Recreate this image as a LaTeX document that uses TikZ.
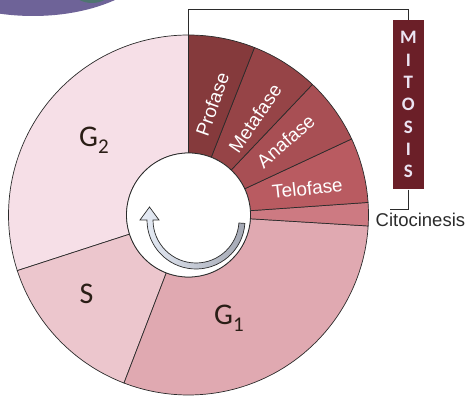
\documentclass[tikz,border=0pt]{standalone}
\usepackage{fontspec}
\setmainfont{Liberation Sans}
\newfontfamily\calfont{Carlito}
\definecolor{cG2}{HTML}{F6DFE7}
\definecolor{cS}{HTML}{ECC6CD}
\definecolor{cG1}{HTML}{E0A9B1}
\definecolor{cPro}{HTML}{853A3C}
\definecolor{cMet}{HTML}{964447}
\definecolor{cAna}{HTML}{A84F54}
\definecolor{cTel}{HTML}{B95B61}
\definecolor{cCit}{HTML}{CD7A82}
\definecolor{cMit}{HTML}{6B1F28}
\definecolor{cMitTxt}{HTML}{ECE4F2}
\definecolor{cPurp}{HTML}{6E6398}
\definecolor{cTeal}{HTML}{4E7470}
\definecolor{cLine}{HTML}{2B2B2B}
\definecolor{cGtxt}{HTML}{2A1E16}
\definecolor{cArrL}{HTML}{E8EEF8}
\definecolor{cArrR}{HTML}{A3A7B3}
\newcommand{\cycseg}[3]{\filldraw[segline, fill=#1] (#2:180pt) arc[start angle=#2, end angle=#3, radius=180pt] -- (#3:62pt) arc[start angle=#3, end angle=#2, radius=62pt] -- cycle;}
\tikzset{
  segline/.style={draw=cLine, line width=0.7pt},
  seglabel/.style={text=white, font=\fontsize{19}{19}\selectfont, inner sep=0pt},
  glabel/.style={text=cGtxt, font=\calfont\fontsize{30}{30}\selectfont, inner sep=0pt, anchor=base west},
  mitbox/.style={fill=cMit, minimum width=31.3pt, minimum height=169.3pt, inner sep=0pt, text=cMitTxt, align=center, font=\calfont\bfseries\fontsize{19}{22.33}\selectfont},
  bracket/.style={draw=cLine, line width=0.8pt},
}
\begin{document}
\begin{tikzpicture}[x=1pt,y=1pt]
\useasboundingbox (0,0) rectangle (465,398);
% top-left decoration
\begin{scope}
\clip (0,0) rectangle (465,398);
\fill[cPurp] (33,448) ellipse [x radius=125.6, y radius=66];
\begin{scope}
\clip (33,448) ellipse [x radius=125.6, y radius=66];
\fill[cTeal] (92,428) ellipse [x radius=30, y radius=33];
\end{scope}
\end{scope}
% ring
\begin{scope}[shift={(188.5,183)}]
\cycseg{cG2}{198}{90}
\cycseg{cS}{-111}{-162}
\cycseg{cG1}{-3.5}{-111}
\cycseg{cCit}{4}{-3.5}
\cycseg{cTel}{25}{4}
\cycseg{cAna}{46.5}{25}
\cycseg{cMet}{68.5}{46.5}
\cycseg{cPro}{90}{68.5}
\filldraw[fill=white, draw=cLine, line width=0.8pt] (0,0) circle[radius=62pt];
\end{scope}
% cycle arrow
\begin{scope}[shift={(196,178)}]
\path[draw=cLine, line width=0.7pt, left color=cArrL, right color=cArrR]
  (-4:49pt) arc[start angle=-4, end angle=-180, radius=49pt]
  -- (-56,0) -- (-46.5,13) -- (-37,0) -- (-43,0)
  arc[start angle=180, end angle=356, radius=43pt] -- cycle;
\end{scope}
% phase labels
\node[seglabel, rotate=70.6] (pro) at (212.3,294) {Profase};
\node[seglabel, rotate=55.7] (met) at (255,279.7) {Metafase};
\node[seglabel, rotate=41.3] (ana) at (285.7,257) {Anafase};
\node[seglabel, rotate=6.3] (tel) at (307.3,209.7) {Telofase};
\node[glabel] (g2) at (79,251.3) {G\raisebox{-7.3pt}{\fontsize{21}{21}\selectfont 2}};
\node[glabel] (s) at (79.5,94) {S};
\node[glabel] (g1) at (214,73) {G\raisebox{-6.7pt}{\fontsize{21}{21}\selectfont 1}};
% mitosis box and brackets
\node[mitbox] (mit) at (408.3,293.3) {M\\I\\T\\O\\S\\I\\S};
\coordinate (ctop) at (188.5,363);
\coordinate (k) at (188.5,388.7);
\coordinate (cl) at (389.5,189);
\draw[bracket] (ctop) -- (k) -| (mit.north);
\draw[bracket] (mit.south) |- (cl);
\node[anchor=base west, inner sep=0pt, text=cLine, font=\fontsize{18.5}{18.5}\selectfont] (cito) at (375.5,171.3) {Citocinesis};
\end{tikzpicture}
\end{document}
